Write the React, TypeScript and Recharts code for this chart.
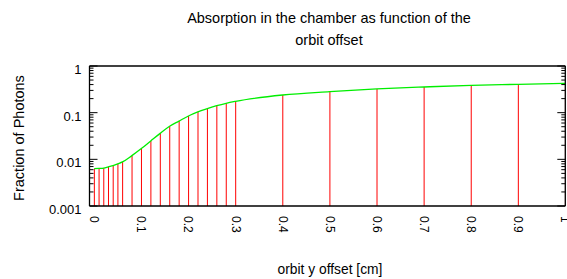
import React from "react";
import { ComposedChart, Bar, Line, XAxis, YAxis } from "recharts";

// orbit y offset [cm]
const offsets = [
  0, 0.01, 0.02, 0.03, 0.04, 0.05, 0.06, 0.08, 0.1, 0.12, 0.14, 0.16, 0.18,
  0.2, 0.22, 0.24, 0.26, 0.28, 0.3, 0.4, 0.5, 0.6, 0.7, 0.8, 0.9, 1.0,
];
// fraction of photons absorbed
const fractions = [
  0.0063, 0.0064, 0.0065, 0.0069, 0.0073, 0.008, 0.0088, 0.012, 0.017, 0.0248,
  0.036, 0.051, 0.066, 0.085, 0.104, 0.122, 0.141, 0.159, 0.175, 0.239, 0.282,
  0.322, 0.355, 0.386, 0.405, 0.426,
];

const xTicks = [0, 0.1, 0.2, 0.3, 0.4, 0.5, 0.6, 0.7, 0.8, 0.9, 1];
const xTickLabels = ["0", "0.1", "0.2", "0.3", "0.4", "0.5", "0.6", "0.7", "0.8", "0.9", "1"];
const yMajorTicks = [0.001, 0.01, 0.1, 1];
const yMajorLabels = ["0.001", "0.01", "0.1", "1"];
const yMinorSteps = [2, 3, 4, 5, 6, 7, 8, 9];

const data = offsets.map((x, i) => ({ x, curve: fractions[i], impulse: fractions[i] }));

const yTicks = [
  ...yMajorTicks,
  ...yMajorTicks.slice(0, -1).flatMap((m) => yMinorSteps.map((k) => m * k)),
].sort((a, b) => a - b);

const FONT = "'Liberation Sans', Arial, Helvetica, sans-serif";

function majorIndex(v: number) {
  return yMajorTicks.findIndex((m) => Math.abs(m - v) / m < 1e-6);
}

const LeftTick = (props: any) => {
  const { x, y, payload } = props;
  const idx = majorIndex(payload.value);
  const major = idx >= 0;
  return (
    <g>
      <line x1={x} x2={x + (major ? 8 : 4)} y1={y} y2={y} stroke="#000" strokeWidth={1} />
      {major && (
        <text x={x - 8} y={y} dy={8} textAnchor="end" fontSize={13} fontFamily={FONT} fill="#000">
          {yMajorLabels[idx]}
        </text>
      )}
    </g>
  );
};

const RightTick = (props: any) => {
  const { x, y, payload } = props;
  const major = majorIndex(payload.value) >= 0;
  return <line x1={x} x2={x - (major ? 8 : 4)} y1={y} y2={y} stroke="#000" strokeWidth={1} />;
};

const XTick = (props: any) => {
  const { x, y, payload } = props;
  const idx = xTicks.indexOf(payload.value);
  const ty = y + 10;
  return (
    <text
      x={x}
      y={ty}
      transform={`rotate(90, ${x}, ${ty})`}
      textAnchor="start"
      dominantBaseline="central"
      fontSize={12}
      fontFamily={FONT}
      fill="#000"
    >
      {xTickLabels[idx]}
    </text>
  );
};

export default function App() {
  return (
    <div style={{ position: "absolute", left: 0, top: 0, width: 567, height: 279, background: "#fff", fontFamily: FONT }}>
      <div style={{ position: "absolute", left: 0, width: 658, top: 7, textAlign: "center", fontSize: 14.5, lineHeight: "22px", color: "#000" }}>
        Absorption in the chamber as function of the
        <br />
        orbit offset
      </div>
      <div style={{ position: "absolute", left: 0, width: 660, top: 262, textAlign: "center", fontSize: 13.8, color: "#000" }}>
        orbit y offset [cm]
      </div>
      <div
        style={{
          position: "absolute",
          left: 19,
          top: 138,
          transform: "translate(-50%, -50%) rotate(-90deg)",
          whiteSpace: "nowrap",
          fontSize: 14.5,
          color: "#000",
        }}
      >
        Fraction of Photons
      </div>
      <ComposedChart
        width={567}
        height={279}
        data={data}
        margin={{ top: 65, right: 0.7, bottom: 43, left: 0 }}
        style={{ position: "absolute", left: 0, top: 0 }}
      >
        <XAxis
          dataKey="x"
          type="number"
          domain={[-0.01, 1]}
          ticks={xTicks}
          interval={0}
          allowDataOverflow
          tickLine={false}
          tickSize={0}
          tickMargin={0}
          axisLine={{ stroke: "#000", strokeWidth: 1.3 }}
          tick={<XTick />}
          height={30}
        />
        <XAxis
          xAxisId="top"
          dataKey="x"
          type="number"
          orientation="top"
          domain={[-0.01, 1]}
          ticks={xTicks}
          tick={false}
          tickLine={false}
          axisLine={{ stroke: "#000", strokeWidth: 1.3 }}
          height={1}
        />
        <YAxis
          yAxisId="left"
          scale="log"
          type="number"
          domain={[0.001, 1]}
          ticks={yTicks}
          interval={0}
          allowDataOverflow
          tickLine={false}
          tickSize={0}
          tickMargin={0}
          axisLine={{ stroke: "#000", strokeWidth: 1.3 }}
          tick={<LeftTick />}
          width={89.5}
        />
        <YAxis
          yAxisId="right"
          orientation="right"
          scale="log"
          type="number"
          domain={[0.001, 1]}
          ticks={yTicks}
          interval={0}
          allowDataOverflow
          tickLine={false}
          tickSize={0}
          tickMargin={0}
          axisLine={{ stroke: "#000", strokeWidth: 1.3 }}
          tick={<RightTick />}
          width={1}
        />
        <Bar yAxisId="left" dataKey="impulse" fill="#ff0000" barSize={1} isAnimationActive={false} />
        <Line
          yAxisId="left"
          dataKey="curve"
          type="monotone"
          stroke="#00ee00"
          strokeWidth={1.3}
          dot={false}
          isAnimationActive={false}
        />
      </ComposedChart>
    </div>
  );
}
